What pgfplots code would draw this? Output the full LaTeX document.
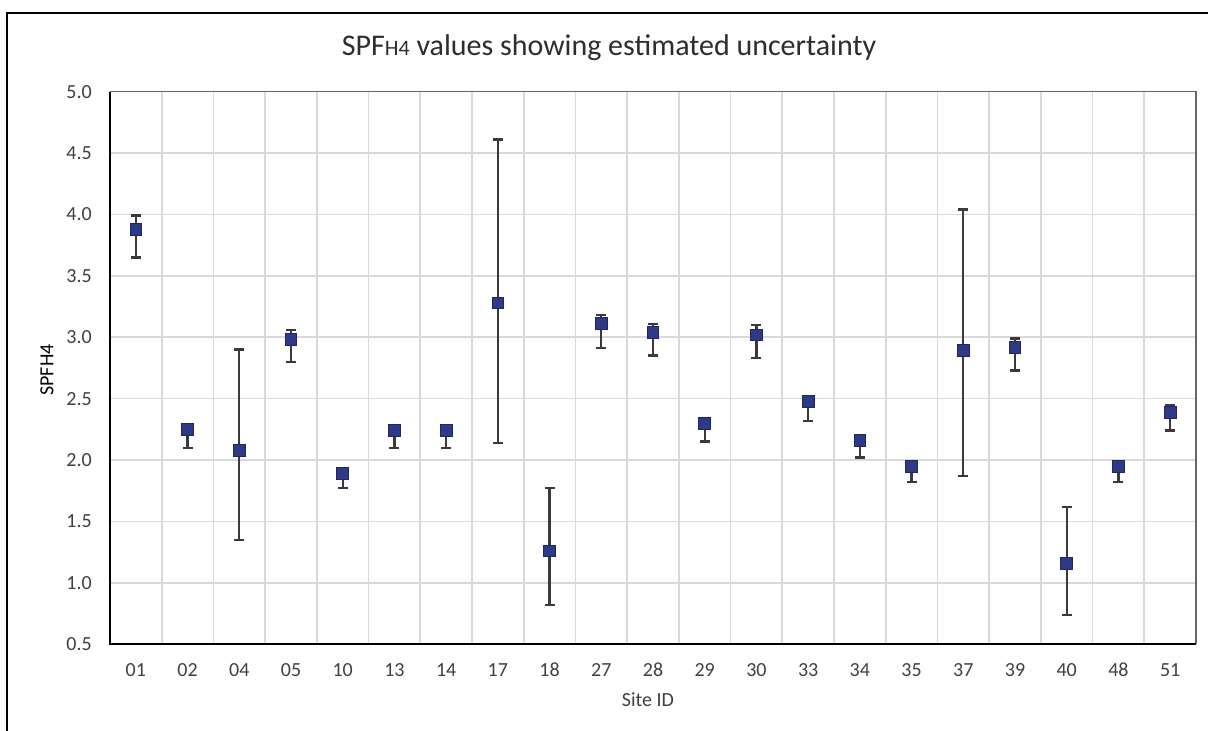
\documentclass[border=0pt]{standalone}
\usepackage{fontspec}
\setmainfont{Carlito}
\usepackage{pgfplots}
\usepackage{pgfplotstable}
\pgfplotsset{compat=1.18}

\definecolor{txtgray}{HTML}{404040}
\definecolor{gridgray}{HTML}{D9D9D9}
\definecolor{marknavy}{HTML}{2E3A87}
\definecolor{markedge}{HTML}{1F2660}
\definecolor{barcol}{HTML}{3A3A3A}

% x = category index, y = SPFH4, plus/minus = asymmetric uncertainty
\pgfplotstableread{
x id y    plus minus
0  01 3.88 0.11 0.23
1  02 2.25 0.03 0.15
2  04 2.08 0.82 0.73
3  05 2.98 0.08 0.18
4  10 1.89 0.04 0.12
5  13 2.24 0.04 0.14
6  14 2.24 0.04 0.14
7  17 3.28 1.33 1.14
8  18 1.26 0.51 0.44
9  27 3.11 0.07 0.20
10 28 3.04 0.07 0.19
11 29 2.30 0.03 0.15
12 30 3.02 0.08 0.19
13 33 2.48 0.04 0.16
14 34 2.16 0.04 0.14
15 35 1.95 0.03 0.13
16 37 2.89 1.15 1.02
17 39 2.92 0.07 0.19
18 40 1.16 0.46 0.42
19 48 1.95 0.03 0.13
20 51 2.39 0.06 0.15
}\spfdata

\begin{document}
\begin{tikzpicture}
\useasboundingbox (-82.5pt,-65pt) rectangle (823.5pt,483.2pt);
% outer chart frame
\draw[black, line width=2pt] (-77.25pt,-70pt) -- (-77.25pt,473.5pt) -- (830pt,473.5pt);

\node[font=\fontsize{22.5}{22.5}\selectfont, text=txtgray!70!black] at (374.25pt,447.2pt)
  {SPF{\fontsize{16.5}{16.5}\selectfont H4} values showing estimated uncertainty};

\begin{axis}[
    at={(0pt,0pt)}, anchor=south west,
    scale only axis,
    width=814.5pt, height=414.5pt,
    xmin=-0.5, xmax=20.5,
    ymin=0.5, ymax=5.0,
    xtick={0,1,...,20},
    xticklabels={01,02,04,05,10,13,14,17,18,27,28,29,30,33,34,35,37,39,40,48,51},
    minor xtick={-0.5,0.5,1.5,2.5,3.5,4.5,5.5,6.5,7.5,8.5,9.5,10.5,11.5,12.5,13.5,14.5,15.5,16.5,17.5,18.5,19.5,20.5},
    ytick={0.5,1.0,1.5,2.0,2.5,3.0,3.5,4.0,4.5,5.0},
    ymajorgrids, xminorgrids,
    major grid style={draw=gridgray, line width=1.2pt},
    minor grid style={draw=gridgray, line width=1.2pt},
    major tick length=0pt, minor tick length=0pt,
    axis line style={draw=none},
    yticklabel style={text=txtgray, font=\fontsize{15}{15}\selectfont,
      inner sep=0pt, xshift=-13.5pt,
      /pgf/number format/fixed, /pgf/number format/fixed zerofill,
      /pgf/number format/precision=1},
    xticklabel style={text=txtgray, font=\fontsize{15}{15}\selectfont,
      inner sep=0pt, yshift=-14pt},
    /pgf/number format/assume math mode=true,
    clip=false,
  ]
  % error bars
  \addplot[draw=none, mark=none, forget plot,
    error bars/.cd, y dir=both, y explicit,
    error bar style={draw=barcol, line width=1.8pt},
    error mark options={draw=barcol, line width=1.8pt, mark size=3.75pt, rotate=90}]
    table[x=x, y=y, y error plus=plus, y error minus=minus] {\spfdata};
  % markers
  \addplot[only marks, mark=square*, mark size=4.4pt,
    mark options={fill=marknavy, draw=markedge, line width=0.6pt}]
    table[x=x, y=y] {\spfdata};
  % plot-area border
  \draw[draw=gray!80!black, line width=1.2pt] (rel axis cs:0,1) -- (rel axis cs:1,1) -- (rel axis cs:1,0);
  \draw[black, line width=1.8pt] (rel axis cs:0,1) -- (rel axis cs:0,0) -- (rel axis cs:1,0);
\end{axis}

\node[font=\fontsize{15}{15}\selectfont, text=txtgray] at (403.5pt,-41.8pt) {Site ID};
\node[font=\fontsize{15}{15}\selectfont, text=black, rotate=90] at (-47.25pt,205.7pt) {SPFH4};
\end{tikzpicture}
\end{document}
